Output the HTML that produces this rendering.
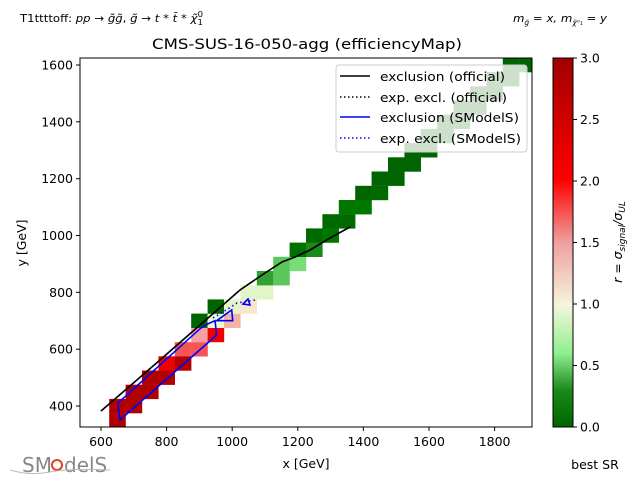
<!DOCTYPE html>
<html><head><meta charset="utf-8"><style>
body{margin:0;background:#fff;}
svg{display:block;font-family:"DejaVu Sans","Liberation Sans",sans-serif;}
</style></head><body>
<svg width="640" height="480" viewBox="0 0 640 480" xmlns="http://www.w3.org/2000/svg">
<defs>
<clipPath id="pc"><rect x="80" y="58" width="452" height="369"/></clipPath>
<linearGradient id="cb" x1="0" y1="1" x2="0" y2="0">
<stop offset="0" stop-color="#006400"/>
<stop offset="0.1" stop-color="#1a8a1a"/>
<stop offset="0.2" stop-color="#90ee90"/>
<stop offset="0.33" stop-color="#f5f5dc"/>
<stop offset="0.5" stop-color="#eea0a0"/>
<stop offset="0.67" stop-color="#ff0000"/>
<stop offset="1" stop-color="#a00000"/>
</linearGradient>
</defs>
<text x="20" y="22" font-size="11" textLength="183" lengthAdjust="spacingAndGlyphs">T1ttttoff: <tspan font-style="italic">pp</tspan> → <tspan font-style="italic">g̃g̃</tspan>, <tspan font-style="italic">g̃</tspan> → <tspan font-style="italic">t</tspan> * <tspan font-style="italic">t̄</tspan> * <tspan font-style="italic">χ̃</tspan><tspan font-size="8" dy="3">1</tspan><tspan font-size="8" dx="-5" dy="-8">0</tspan></text>
<text x="513" y="22" font-size="11" font-style="italic" textLength="94" lengthAdjust="spacingAndGlyphs">m<tspan font-size="7" dy="3">g̃</tspan><tspan dy="-3"> = x, m</tspan><tspan font-size="7" dy="3">χ̃⁰₁</tspan><tspan dy="-3"> = y</tspan></text>
<text x="152" y="49" font-size="14.5" textLength="310" lengthAdjust="spacingAndGlyphs">CMS-SUS-16-050-agg (efficiencyMap)</text>
<g clip-path="url(#pc)">
<g>
<rect x="109.2" y="413.1" width="16.6" height="14.4" fill="#b00000"/>
<rect x="109.2" y="398.9" width="16.6" height="14.4" fill="#b00000"/>
<rect x="125.6" y="398.9" width="16.6" height="14.4" fill="#b00000"/>
<rect x="125.6" y="384.7" width="16.6" height="14.4" fill="#b00000"/>
<rect x="142" y="384.7" width="16.6" height="14.4" fill="#b00000"/>
<rect x="142" y="370.5" width="16.6" height="14.4" fill="#b00000"/>
<rect x="158.4" y="370.5" width="16.6" height="14.4" fill="#b00000"/>
<rect x="158.4" y="356.3" width="16.6" height="14.4" fill="#ee0000"/>
<rect x="174.8" y="356.3" width="16.6" height="14.4" fill="#b00000"/>
<rect x="174.8" y="342.1" width="16.6" height="14.4" fill="#f55555"/>
<rect x="191.2" y="342.1" width="16.6" height="14.4" fill="#f55555"/>
<rect x="191.2" y="327.8" width="16.6" height="14.4" fill="#f4a0a0"/>
<rect x="191.2" y="313.6" width="16.6" height="14.4" fill="#006400"/>
<rect x="207.6" y="327.8" width="16.6" height="14.4" fill="#f00000"/>
<rect x="207.6" y="313.6" width="16.6" height="14.4" fill="#eef8d0"/>
<rect x="207.6" y="299.4" width="16.6" height="14.4" fill="#006400"/>
<rect x="224" y="313.6" width="16.6" height="14.4" fill="#f4b4a4"/>
<rect x="224" y="299.4" width="16.6" height="14.4" fill="#e5f5c8"/>
<rect x="240.4" y="299.4" width="16.6" height="14.4" fill="#f8e6c8"/>
<rect x="240.4" y="285.2" width="16.6" height="14.4" fill="#e2f5c8"/>
<rect x="256.8" y="285.2" width="16.6" height="14.4" fill="#e2f5c8"/>
<rect x="256.8" y="271" width="16.6" height="14.4" fill="#33a033"/>
<rect x="273.2" y="271" width="16.6" height="14.4" fill="#5cc85c"/>
<rect x="273.2" y="256.8" width="16.6" height="14.4" fill="#5cc85c"/>
<rect x="289.6" y="256.8" width="16.6" height="14.4" fill="#77dd77"/>
<rect x="289.6" y="242.6" width="16.6" height="14.4" fill="#007000"/>
<rect x="306" y="242.6" width="16.6" height="14.4" fill="#1a8a1a"/>
<rect x="306" y="228.4" width="16.6" height="14.4" fill="#006a00"/>
<rect x="322.4" y="228.4" width="16.6" height="14.4" fill="#007800"/>
<rect x="322.4" y="214.2" width="16.6" height="14.4" fill="#006a00"/>
<rect x="338.8" y="214.2" width="16.6" height="14.4" fill="#006a00"/>
<rect x="338.8" y="200" width="16.6" height="14.4" fill="#007800"/>
<rect x="355.2" y="200" width="16.6" height="14.4" fill="#007800"/>
<rect x="355.2" y="185.8" width="16.6" height="14.4" fill="#006400"/>
<rect x="371.6" y="185.8" width="16.6" height="14.4" fill="#006a00"/>
<rect x="371.6" y="171.5" width="16.6" height="14.4" fill="#006400"/>
<rect x="388" y="171.5" width="16.6" height="14.4" fill="#006400"/>
<rect x="388" y="157.3" width="16.6" height="14.4" fill="#006400"/>
<rect x="404.4" y="157.3" width="16.6" height="14.4" fill="#006400"/>
<rect x="404.4" y="143.1" width="16.6" height="14.4" fill="#006400"/>
<rect x="420.8" y="143.1" width="16.6" height="14.4" fill="#006400"/>
<rect x="420.8" y="128.9" width="16.6" height="14.4" fill="#006400"/>
<rect x="437.2" y="128.9" width="16.6" height="14.4" fill="#006400"/>
<rect x="437.2" y="114.7" width="16.6" height="14.4" fill="#006400"/>
<rect x="453.6" y="114.7" width="16.6" height="14.4" fill="#006400"/>
<rect x="453.6" y="100.5" width="16.6" height="14.4" fill="#006400"/>
<rect x="470" y="100.5" width="16.6" height="14.4" fill="#006400"/>
<rect x="470" y="86.3" width="16.6" height="14.4" fill="#006400"/>
<rect x="486.4" y="86.3" width="16.6" height="14.4" fill="#006400"/>
<rect x="486.4" y="72.1" width="16.6" height="14.4" fill="#006400"/>
<rect x="502.8" y="72.1" width="16.6" height="14.4" fill="#006400"/>
<rect x="502.8" y="57.9" width="16.6" height="14.4" fill="#006400"/>
<rect x="519.2" y="57.9" width="16.6" height="14.4" fill="#006400"/>
</g>
<polyline points="101,411 160,360 200,325 240,290 262,275 282,262 295,257 310,250 330,238 350,227" fill="none" stroke="#000" stroke-width="1.6"/>
<polyline points="101,411 160,360 200,325 240,290 262,275 282,262 295,257 310,250 330,238 350,227" fill="none" stroke="#000" stroke-width="1.4" stroke-dasharray="1.5,2.5"/>
<polygon points="117.7,403.3 196.7,331.7 203.3,326 215,320.7 216.7,335 120,420" fill="none" stroke="#0000ff" stroke-width="1.6"/>
<polygon points="216.7,320.7 231.7,310 232.7,320.7" fill="none" stroke="#0000ff" stroke-width="1.6"/>
<polygon points="243,304 248,299 250,305" fill="none" stroke="#0000ff" stroke-width="1.6"/>
<polyline points="213,318 223,312 237,303 255,300" fill="none" stroke="#0000ff" stroke-width="1.6" stroke-dasharray="1.5,3"/>
</g>
<rect x="80" y="58" width="452" height="369" fill="none" stroke="#000" stroke-width="1"/>
<!-- legend -->
<rect x="336" y="65" width="191" height="87" rx="3" fill="#fff" fill-opacity="0.8" stroke="#ccc" stroke-width="1"/>
<line x1="340" y1="76" x2="370" y2="76" stroke="#000" stroke-width="1.6"/>
<line x1="340" y1="97" x2="370" y2="97" stroke="#000" stroke-width="1.6" stroke-dasharray="1.5,2.5"/>
<line x1="340" y1="117" x2="370" y2="117" stroke="#0000ff" stroke-width="1.6"/>
<line x1="340" y1="138" x2="370" y2="138" stroke="#0000ff" stroke-width="1.6" stroke-dasharray="1.5,2.5"/>
<g font-size="12.5">
<text x="380" y="81" textLength="125" lengthAdjust="spacingAndGlyphs">exclusion (official)</text>
<text x="380" y="102" textLength="127" lengthAdjust="spacingAndGlyphs">exp. excl. (official)</text>
<text x="380" y="122" textLength="139" lengthAdjust="spacingAndGlyphs">exclusion (SModelS)</text>
<text x="380" y="143" textLength="141" lengthAdjust="spacingAndGlyphs">exp. excl. (SModelS)</text>
</g>
<!-- ticks -->
<g stroke="#000" stroke-width="1">
<line x1="101" y1="427" x2="101" y2="431"/><line x1="166.6" y1="427" x2="166.6" y2="431"/><line x1="232.2" y1="427" x2="232.2" y2="431"/><line x1="297.8" y1="427" x2="297.8" y2="431"/><line x1="363.4" y1="427" x2="363.4" y2="431"/><line x1="429" y1="427" x2="429" y2="431"/><line x1="494.6" y1="427" x2="494.6" y2="431"/>
<line x1="76" y1="406" x2="80" y2="406"/><line x1="76" y1="349.2" x2="80" y2="349.2"/><line x1="76" y1="292.3" x2="80" y2="292.3"/><line x1="76" y1="235.5" x2="80" y2="235.5"/><line x1="76" y1="178.7" x2="80" y2="178.7"/><line x1="76" y1="121.8" x2="80" y2="121.8"/><line x1="76" y1="65" x2="80" y2="65"/>
</g>
<g font-size="12.5" text-anchor="middle">
<text x="101" y="446">600</text><text x="166.6" y="446">800</text><text x="232.2" y="446">1000</text><text x="297.8" y="446">1200</text><text x="363.4" y="446">1400</text><text x="429" y="446">1600</text><text x="494.6" y="446">1800</text>
</g>
<g font-size="12.5" text-anchor="end">
<text x="73" y="410.5">400</text><text x="73" y="353.7">600</text><text x="73" y="296.8">800</text><text x="73" y="240">1000</text><text x="73" y="183.2">1200</text><text x="73" y="126.3">1400</text><text x="73" y="69.5">1600</text>
</g>
<text x="306" y="468" font-size="12.5" text-anchor="middle">x [GeV]</text>
<text transform="translate(26,243) rotate(-90)" font-size="12.5" text-anchor="middle">y [GeV]</text>
<!-- colorbar -->
<rect x="553" y="58" width="20" height="369" fill="url(#cb)" stroke="#000" stroke-width="1"/>
<g stroke="#000" stroke-width="1">
<line x1="573" y1="427" x2="577" y2="427"/><line x1="573" y1="365.5" x2="577" y2="365.5"/><line x1="573" y1="304" x2="577" y2="304"/><line x1="573" y1="242.5" x2="577" y2="242.5"/><line x1="573" y1="181" x2="577" y2="181"/><line x1="573" y1="119.5" x2="577" y2="119.5"/><line x1="573" y1="58" x2="577" y2="58"/>
</g>
<g font-size="12.5">
<text x="580" y="431.5">0.0</text><text x="580" y="370">0.5</text><text x="580" y="308.5">1.0</text><text x="580" y="247">1.5</text><text x="580" y="185.5">2.0</text><text x="580" y="124">2.5</text><text x="580" y="62.5">3.0</text>
</g>
<text transform="translate(622,242) rotate(-90)" font-size="12.5" text-anchor="middle" font-style="italic">r = σ<tspan font-size="9" dy="3">signal</tspan><tspan dy="-3">/σ</tspan><tspan font-size="9" dy="3">UL</tspan></text>
<text x="595" y="469" font-size="12.5" text-anchor="middle">best SR</text>
<!-- logo -->
<text x="22" y="472" font-size="20" fill="#888">SM</text>
<circle cx="57" cy="465" r="5" fill="none" stroke="#e04020" stroke-width="2"/>
<text x="64" y="472" font-size="20" fill="#888">delS</text>
<path d="M10 470 Q30 476 50 472 T110 470" fill="none" stroke="#bbb" stroke-width="1"/>
</svg>
</body></html>
